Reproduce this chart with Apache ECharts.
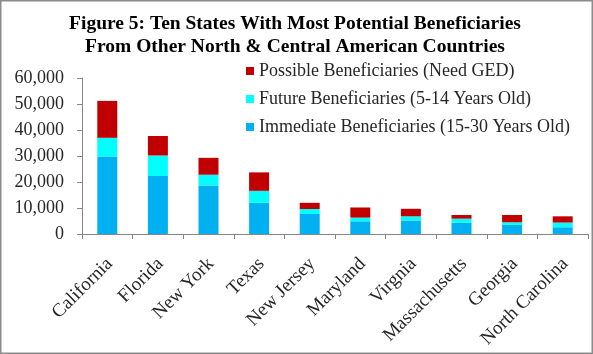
<!DOCTYPE html>
<html>
<head>
<meta charset="utf-8">
<script src="https://cdn.jsdelivr.net/npm/echarts@6/dist/echarts.min.js"></script>
<style>
html,body{margin:0;padding:0;background:#fff;}
#chart{width:593px;height:354px;}
</style>
</head>
<body>
<div id="chart"></div>
<script>
const titleLines = ["Figure 5: Ten States With Most Potential Beneficiaries", "From Other North & Central American Countries"];
const states = ["California","Florida","New York","Texas","New Jersey","Maryland","Virgnia","Massachusetts","Georgia","North Carolina"];
const immediate = [29800, 22300, 18700, 12000, 7700, 4900, 5200, 4300, 3500, 2600];
const future    = [7200, 7900, 4100, 4600, 1900, 1400, 1600, 1600, 1000, 1800];
const possible  = [14200, 7500, 6500, 7100, 2400, 3900, 2900, 1400, 2800, 2400];
const seriesNames = ["Immediate Beneficiaries (15-30 Years Old)", "Future Beneficiaries (5-14 Years Old)", "Possible Beneficiaries (Need GED)"];
const yTicks = {min: 0, max: 60000, interval: 10000};

const chart = echarts.init(document.getElementById('chart'), null, {renderer: 'canvas'});
const serif = '"Liberation Serif","Times New Roman",serif';
const txtColor = '#262626';
const colors = ['#00B0F0', '#00FFFF', '#C00000'];
const values = [immediate, future, possible];

chart.setOption({
  animation: false,
  title: {
    text: titleLines.join('\n'),
    left: 295, top: 13, textAlign: 'center', padding: 0,
    textStyle: {fontFamily: serif, fontWeight: 'bold', fontSize: 19.5, color: '#000', lineHeight: 22.5}
  },
  graphic: [{
    type: 'rect', shape: {x: 0.75, y: 0.75, width: 591.5, height: 352.5},
    style: {fill: 'none', stroke: '#8c8c8c', lineWidth: 1.5}, silent: true
  }],
  legend: {
    orient: 'vertical', left: 246, top: 61, itemGap: 8, padding: 0,
    itemWidth: 8, itemHeight: 8, icon: 'rect',
    data: [seriesNames[2], seriesNames[1], seriesNames[0]],
    textStyle: {fontFamily: serif, fontSize: 18, color: txtColor, lineHeight: 20}
  },
  grid: {left: 82, right: 5, top: 78, bottom: 120, containLabel: false},
  xAxis: {
    type: 'category', data: states,
    axisLine: {lineStyle: {color: '#868686', width: 1}},
    axisTick: {show: true, alignWithLabel: false, length: 5, lineStyle: {color: '#868686'}},
    axisLabel: {rotate: 45, interval: 0, margin: 16, verticalAlign: 'top', padding: [0, 6, 0, 0], fontFamily: serif, fontSize: 19, color: txtColor}
  },
  yAxis: {
    type: 'value', min: yTicks.min, max: yTicks.max, interval: yTicks.interval,
    axisLine: {show: true, lineStyle: {color: '#868686', width: 1}},
    axisTick: {show: true, length: 5, lineStyle: {color: '#868686'}},
    splitLine: {show: false},
    axisLabel: {
      margin: 18, fontFamily: serif, fontSize: 18, color: txtColor,
      formatter: v => v.toLocaleString('en-US')
    }
  },
  series: seriesNames.map((n, i) => ({
    name: n, type: 'bar', stack: 'total', barWidth: 20,
    itemStyle: {color: colors[i]},
    data: values[i]
  }))
});
</script>
</body>
</html>
